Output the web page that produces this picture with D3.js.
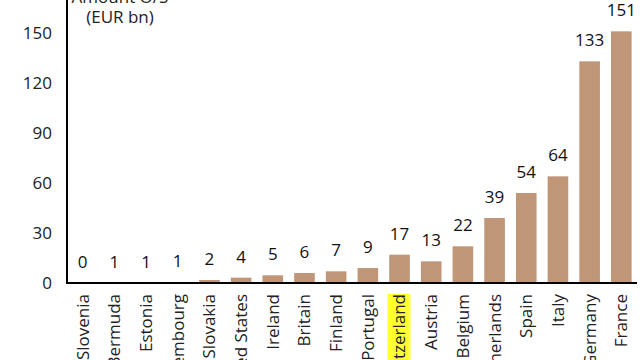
<!DOCTYPE html>
<html>
<head>
<meta charset="utf-8">
<script src="https://cdn.jsdelivr.net/npm/d3@7"></script>
<style>
  body { margin: 0; background: #fff; }
  svg { display: block; font-family: "Open Sans", sans-serif; }
</style>
</head>
<body>
<div id="chart"></div>
<script>
// amounts outstanding by country (EUR bn)
var countries = ["Slovenia", "Bermuda", "Estonia", "Luxembourg", "Slovakia", "United States",
  "Ireland", "Britain", "Finland", "Portugal", "Switzerland", "Austria", "Belgium",
  "Netherlands", "Spain", "Italy", "Germany", "France"];
var amounts = [0, 0.1, 0.1, 0.6, 1.8, 3.2, 4.6, 6, 7, 9, 17, 13, 22, 39, 54, 64, 133, 151];
var valueLabels = ["0", "1", "1", "1", "2", "4", "5", "6", "7", "9", "17", "13", "22", "39", "54", "64", "133", "151"];
var yTicks = [0, 30, 60, 90, 120, 150];
var highlight = "Switzerland";

(function drawChart(){
  var width = 640, height = 360;
  var margin = {top: 0, right: 3, bottom: 76, left: 67};

  var svg = d3.select("#chart").append("svg")
    .attr("width", width)
    .attr("height", height);

  var x = d3.scaleBand()
    .domain(countries)
    .range([margin.left, width - margin.right])
    .paddingInner(0.35)
    .paddingOuter(0.17);

  var y = d3.scaleLinear()
    .domain([0, 150])
    .range([283, 33]);

  // bars
  svg.append("g").selectAll("rect")
    .data(countries)
    .enter().append("rect")
    .attr("x", d => x(d))
    .attr("width", x.bandwidth())
    .attr("y", (d, i) => y(amounts[i]))
    .attr("height", (d, i) => y(0) - y(amounts[i]))
    .attr("fill", "#bf9677");

  // value labels above the bars
  svg.append("g").selectAll("text")
    .data(countries)
    .enter().append("text")
    .attr("x", d => x(d) + x.bandwidth() / 2)
    .attr("y", (d, i) => y(amounts[i]) - 15)
    .attr("text-anchor", "middle")
    .attr("font-size", 17)
    .attr("fill", "#111")
    .text((d, i) => valueLabels[i]);

  // y axis
  var yAxis = svg.append("g")
    .attr("transform", "translate(" + margin.left + ",0)")
    .call(d3.axisLeft(y).tickValues(yTicks).tickSize(0).tickPadding(15));
  yAxis.select(".domain").remove();
  yAxis.selectAll("text").attr("font-size", 17).attr("fill", "#222")
    .style("font-family", "Open Sans, sans-serif");

  svg.append("line")
    .attr("x1", margin.left).attr("x2", margin.left)
    .attr("y1", 0).attr("y2", y(0) + 1)
    .attr("stroke", "#000").attr("stroke-width", 2);

  // x axis
  var xAxis = svg.append("g")
    .attr("transform", "translate(0," + y(0) + ")")
    .call(d3.axisBottom(x).tickSize(0).tickPadding(0));
  xAxis.select(".domain").remove();
  xAxis.selectAll("text")
    .attr("font-size", 17)
    .attr("fill", "#222")
    .style("font-family", "Open Sans, sans-serif")
    .attr("text-anchor", "end")
    .attr("transform", "rotate(-90)")
    .attr("x", -11)
    .attr("y", 0)
    .attr("dy", "0.35em");

  // highlighted label
  xAxis.selectAll(".tick").filter(d => d === highlight).each(function(){
    var t = d3.select(this).select("text");
    var b = t.node().getBBox();
    d3.select(this).insert("rect", "text")
      .attr("transform", "rotate(-90)")
      .attr("x", b.x).attr("y", b.y)
      .attr("width", b.width).attr("height", b.height)
      .attr("fill", "#ffff33");
  });

  svg.append("line")
    .attr("x1", margin.left - 1).attr("x2", width - margin.right)
    .attr("y1", y(0)).attr("y2", y(0))
    .attr("stroke", "#000").attr("stroke-width", 2);

  // axis title
  svg.append("text")
    .attr("x", 120).attr("y", 3)
    .attr("text-anchor", "middle")
    .attr("font-size", 17).attr("fill", "#222")
    .text("Amount O/S");
  svg.append("text")
    .attr("x", 120).attr("y", 23)
    .attr("text-anchor", "middle")
    .attr("font-size", 17).attr("fill", "#222")
    .text("(EUR bn)");
}());
</script>
</body>
</html>
